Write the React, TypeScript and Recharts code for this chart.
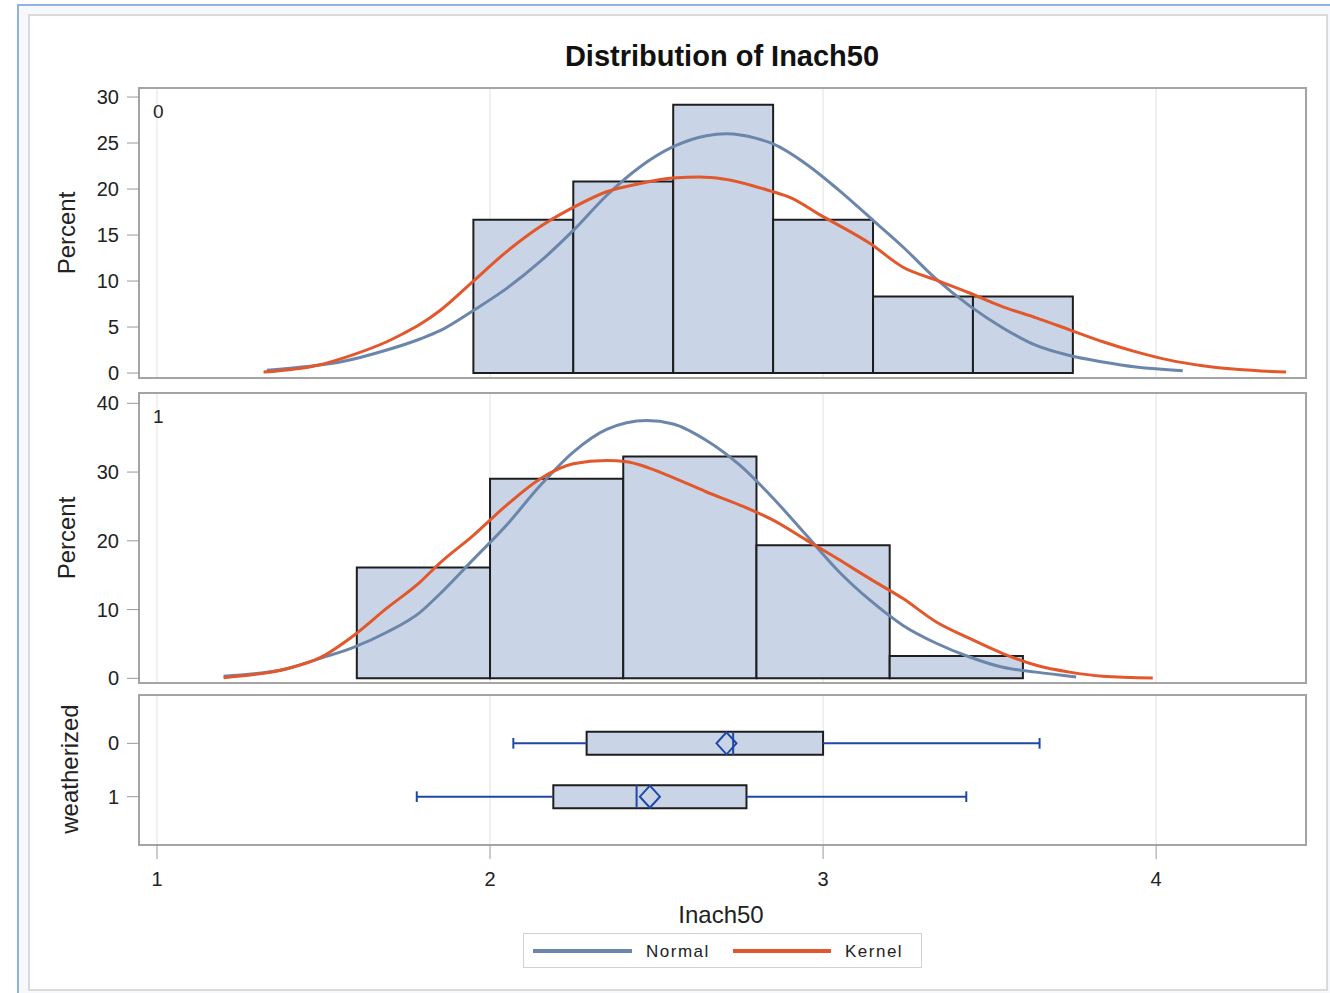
import {
  ComposedChart,
  XAxis,
  YAxis,
  CartesianGrid,
  ReferenceArea,
  ReferenceLine,
  Line,
  Scatter,
} from 'recharts';

// shared x axis
const xTicks = [1, 2, 3, 4];
const X_DOMAIN: [number, number] = [0.946, 4.45];

// weatherized = 0
const edges0 = [1.95, 2.25, 2.55, 2.85, 3.15, 3.45, 3.75];
const pct0 = [16.67, 20.83, 29.17, 16.67, 8.33, 8.33];
const yTicks0 = [0, 5, 10, 15, 20, 25, 30];

const normal0: [number, number][] = [
  [1.33, 0.3], [1.45, 0.7], [1.55, 1.2], [1.69, 2.5], [1.79, 3.7], [1.85, 4.6],
  [1.95, 6.8], [2.05, 9.2], [2.15, 12.1], [2.25, 15.5], [2.35, 19.3], [2.45, 22.4],
  [2.55, 24.6], [2.65, 25.8], [2.71, 26.0], [2.8, 25.5], [2.85, 24.9], [2.95, 22.7],
  [3.05, 19.8], [3.15, 16.6], [3.24, 13.7], [3.34, 10.2], [3.44, 7.3], [3.54, 4.9],
  [3.64, 3.0], [3.74, 1.9], [3.84, 1.2], [3.94, 0.65], [4.08, 0.25],
];

const kernel0: [number, number][] = [
  [1.32, 0.1], [1.49, 0.9], [1.59, 2.0], [1.69, 3.4], [1.74, 4.3], [1.79, 5.3],
  [1.85, 6.8], [1.95, 10.0], [2.05, 13.2], [2.15, 15.9], [2.25, 18.0], [2.35, 19.7],
  [2.45, 20.6], [2.55, 21.2], [2.63, 21.3], [2.7, 21.1], [2.85, 19.7], [2.9, 19.1],
  [3.0, 17.0], [3.05, 16.0], [3.14, 14.1], [3.24, 11.5], [3.34, 10.1], [3.44, 8.7],
  [3.54, 7.2], [3.64, 6.0], [3.74, 4.7], [3.84, 3.4], [3.94, 2.3], [4.04, 1.4],
  [4.14, 0.8], [4.24, 0.4], [4.39, 0.1],
];

// weatherized = 1
const edges1 = [1.6, 2.0, 2.4, 2.8, 3.2, 3.6];
const pct1 = [16.13, 29.03, 32.26, 19.35, 3.23];
const yTicks1 = [0, 10, 20, 30, 40];

const normal1: [number, number][] = [
  [1.2, 0.3], [1.39, 1.4], [1.49, 2.9], [1.59, 4.5], [1.69, 6.7], [1.79, 9.6],
  [1.85, 12.3], [1.95, 17.3], [2.05, 22.3], [2.15, 28.0], [2.25, 32.9], [2.35, 36.2],
  [2.47, 37.5], [2.55, 37.0], [2.65, 34.6], [2.75, 31.0], [2.85, 26.2], [2.95, 20.8],
  [3.05, 15.4], [3.14, 11.4], [3.24, 7.7], [3.34, 5.1], [3.44, 3.1], [3.54, 1.6],
  [3.64, 0.9], [3.76, 0.2],
];

const kernel1: [number, number][] = [
  [1.2, 0.1], [1.39, 1.4], [1.49, 3.0], [1.59, 6.2], [1.69, 10.2], [1.79, 14.0],
  [1.85, 16.8], [1.95, 20.8], [2.05, 25.2], [2.15, 29.0], [2.25, 31.2], [2.35, 31.7],
  [2.41, 31.5], [2.55, 29.2], [2.65, 27.1], [2.75, 25.2], [2.85, 23.0], [2.95, 20.1],
  [3.05, 17.2], [3.14, 14.5], [3.24, 11.6], [3.34, 8.2], [3.44, 5.8], [3.54, 3.6],
  [3.64, 1.9], [3.74, 0.9], [3.84, 0.3], [3.99, 0.05],
];

// box plot stats, one entry per group
const groups = ['0', '1'];
const boxLow = [2.07, 1.78];
const boxQ1 = [2.29, 2.19];
const boxMedian = [2.73, 2.44];
const boxMean = [2.71, 2.48];
const boxQ3 = [3.0, 2.77];
const boxHigh = [3.65, 3.43];

const HIST_FILL = '#c9d5e6';
const NORMAL = '#6c86ab';
const KERNEL = '#e2572b';
const WHISKER = '#1f47a8';
const FRAME = '#a4a4a4';
const GRID = '#e2e2e2';
const FONT = '"Liberation Sans", Arial, sans-serif';

const BOX_HALF = 0.216;
const CAP_HALF = 0.1;

const toPts = (a: [number, number][]) => a.map(([x, y]) => ({ x, y }));

const tickStyle = { fontSize: 20, fill: '#222' };

const frame = (yDomain: [number, number]) => (
  <ReferenceArea
    x1={X_DOMAIN[0]}
    x2={X_DOMAIN[1]}
    y1={yDomain[0]}
    y2={yDomain[1]}
    fill="none"
    fillOpacity={0}
    stroke={FRAME}
    strokeWidth={2}
    ifOverflow="visible"
  />
);

interface HistProps {
  top: number;
  edges: number[];
  pct: number[];
  normal: [number, number][];
  kernel: [number, number][];
  yDomain: [number, number];
  yTicks: number[];
}

function HistPanel({ top, edges, pct, normal, kernel, yDomain, yTicks }: HistProps) {
  return (
    <div style={{ position: 'absolute', left: 0, top }}>
      <ComposedChart width={1330} height={310} margin={{ top: 8, right: 24, bottom: 12, left: 59 }}>
        <CartesianGrid horizontal={false} stroke={GRID} />
        <XAxis
          type="number"
          dataKey="x"
          domain={X_DOMAIN}
          ticks={xTicks}
          interval={0}
          allowDataOverflow
          tick={() => <g />}
          tickLine={false}
          axisLine={false}
          height={0}
        />
        <YAxis
          type="number"
          domain={yDomain}
          ticks={yTicks}
          interval={0}
          allowDataOverflow
          width={80}
          axisLine={false}
          tickSize={12}
          tickMargin={8}
          tick={tickStyle}
          tickLine={{ stroke: '#999' }}
        />
        {pct.map((v, i) => (
          <ReferenceArea
            key={i}
            x1={edges[i]}
            x2={edges[i + 1]}
            y1={0}
            y2={v}
            fill={HIST_FILL}
            fillOpacity={1}
            stroke="#1e1e1e"
            strokeWidth={2}
            ifOverflow="visible"
          />
        ))}
        <Line
          data={toPts(normal)}
          dataKey="y"
          type="monotone"
          stroke={NORMAL}
          strokeWidth={3}
          dot={false}
          isAnimationActive={false}
        />
        <Line
          data={toPts(kernel)}
          dataKey="y"
          type="monotone"
          stroke={KERNEL}
          strokeWidth={3}
          dot={false}
          isAnimationActive={false}
        />
        {frame(yDomain)}
      </ComposedChart>
    </div>
  );
}

const MeanDiamond = (p: any) => (
  <path
    d={`M${p.cx},${p.cy - 11} L${p.cx + 10},${p.cy} L${p.cx},${p.cy + 11} L${p.cx - 10},${p.cy} Z`}
    fill="none"
    stroke={WHISKER}
    strokeWidth={2}
  />
);

const BOX_Y: [number, number] = [-0.906, 1.906];

function BoxPanel() {
  const means = groups.map((_, i) => ({ x: boxMean[i], y: i }));
  return (
    <div style={{ position: 'absolute', left: 0, top: 687 }}>
      <ComposedChart width={1330} height={208} margin={{ top: 8, right: 24, bottom: 0, left: 59 }}>
        <CartesianGrid horizontal={false} stroke={GRID} />
        <XAxis
          type="number"
          dataKey="x"
          domain={X_DOMAIN}
          ticks={xTicks}
          interval={0}
          allowDataOverflow
          height={50}
          axisLine={false}
          tickSize={14}
          tickMargin={13}
          tick={tickStyle}
          tickLine={{ stroke: '#999' }}
        />
        <YAxis
          type="number"
          dataKey="y"
          domain={BOX_Y}
          ticks={[0, 1]}
          interval={0}
          reversed
          allowDataOverflow
          width={80}
          axisLine={false}
          tickSize={12}
          tickMargin={8}
          tick={tickStyle}
          tickLine={{ stroke: '#999' }}
          tickFormatter={(v: number) => groups[v] ?? ''}
        />
        {groups.map((_, i) => [
          <ReferenceLine
            key={`wl${i}`}
            segment={[{ x: boxLow[i], y: i }, { x: boxQ1[i], y: i }]}
            stroke={WHISKER}
            strokeWidth={2}
          />,
          <ReferenceLine
            key={`wh${i}`}
            segment={[{ x: boxQ3[i], y: i }, { x: boxHigh[i], y: i }]}
            stroke={WHISKER}
            strokeWidth={2}
          />,
          <ReferenceLine
            key={`cl${i}`}
            segment={[{ x: boxLow[i], y: i - CAP_HALF }, { x: boxLow[i], y: i + CAP_HALF }]}
            stroke={WHISKER}
            strokeWidth={2}
          />,
          <ReferenceLine
            key={`ch${i}`}
            segment={[{ x: boxHigh[i], y: i - CAP_HALF }, { x: boxHigh[i], y: i + CAP_HALF }]}
            stroke={WHISKER}
            strokeWidth={2}
          />,
          <ReferenceArea
            key={`b${i}`}
            x1={boxQ1[i]}
            x2={boxQ3[i]}
            y1={i - BOX_HALF}
            y2={i + BOX_HALF}
            fill={HIST_FILL}
            fillOpacity={1}
            stroke="#1e1e1e"
            strokeWidth={2}
          />,
          <ReferenceLine
            key={`m${i}`}
            segment={[{ x: boxMedian[i], y: i - BOX_HALF }, { x: boxMedian[i], y: i + BOX_HALF }]}
            stroke={WHISKER}
            strokeWidth={2}
          />,
        ])}
        <Scatter data={means} shape={MeanDiamond} isAnimationActive={false} />
        {frame(BOX_Y)}
      </ComposedChart>
    </div>
  );
}

export default function App() {
  return (
    <div
      style={{
        position: 'absolute',
        left: 0,
        top: 0,
        width: 1330,
        height: 993,
        background: '#fff',
        fontFamily: FONT,
        overflow: 'hidden',
      }}
    >
      <div
        style={{
          position: 'absolute',
          left: 17,
          top: 4,
          right: 0,
          bottom: 0,
          borderTop: '2px solid #8fb3e3',
          borderLeft: '2px solid #8fb3e3',
          background: '#f6f8fb',
        }}
      />
      <div
        style={{
          position: 'absolute',
          left: 28,
          top: 14,
          width: 1300,
          height: 977,
          border: '2px solid #dadada',
          boxSizing: 'border-box',
          background: '#fff',
        }}
      />

      <HistPanel
        top={80}
        edges={edges0}
        pct={pct0}
        normal={normal0}
        kernel={kernel0}
        yDomain={[-0.54, 30.98]}
        yTicks={yTicks0}
      />
      <HistPanel
        top={385}
        edges={edges1}
        pct={pct1}
        normal={normal1}
        kernel={kernel1}
        yDomain={[-0.68, 41.5]}
        yTicks={yTicks1}
      />
      <BoxPanel />

      <svg
        width={1330}
        height={993}
        style={{ position: 'absolute', left: 0, top: 0, pointerEvents: 'none', fontFamily: FONT }}
      >
        <text x={722} y={66} textAnchor="middle" fontSize={29} fontWeight="bold" fill="#111">
          Distribution of Inach50
        </text>
        <text x={75} y={233} transform="rotate(-90 75 233)" textAnchor="middle" fontSize={24} fill="#222">
          Percent
        </text>
        <text x={75} y={538} transform="rotate(-90 75 538)" textAnchor="middle" fontSize={24} fill="#222">
          Percent
        </text>
        <text x={78} y={769} transform="rotate(-90 78 769)" textAnchor="middle" fontSize={24} fill="#222">
          weatherized
        </text>
        <text x={721} y={923} textAnchor="middle" fontSize={24} fill="#222">
          Inach50
        </text>
        <text x={153} y={118} fontSize={19} fill="#222">
          {groups[0]}
        </text>
        <text x={153} y={423} fontSize={19} fill="#222">
          {groups[1]}
        </text>

        <rect x={523.5} y={933.5} width={398} height={34} fill="#fff" stroke="#d2d2d2" />
        <line x1={533} x2={632} y1={951} y2={951} stroke={NORMAL} strokeWidth={4} />
        <text x={646} y={957} fontSize={17} letterSpacing={1.5} fill="#222">
          Normal
        </text>
        <line x1={733} x2={831} y1={951} y2={951} stroke={KERNEL} strokeWidth={4} />
        <text x={845} y={957} fontSize={17} letterSpacing={1.5} fill="#222">
          Kernel
        </text>
      </svg>
    </div>
  );
}
